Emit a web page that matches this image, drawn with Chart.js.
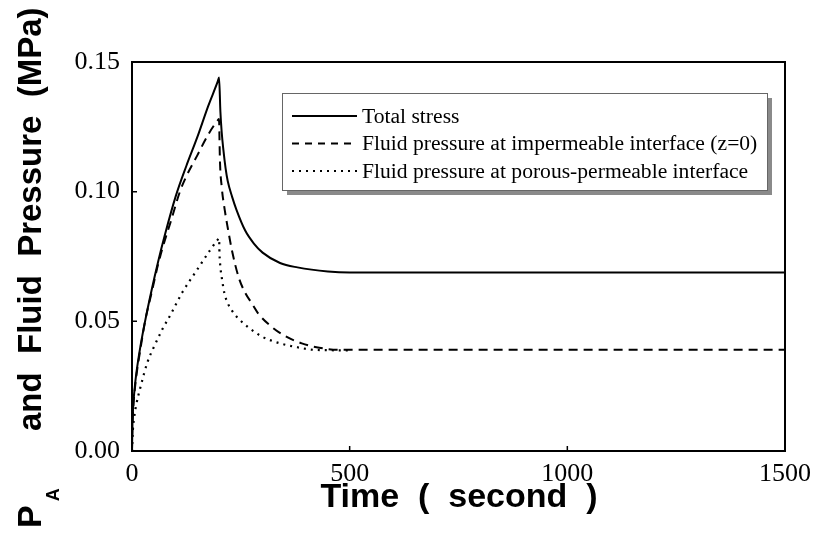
<!DOCTYPE html>
<html>
<head>
<meta charset="utf-8">
<script src="https://cdn.jsdelivr.net/npm/chart.js@4.4.0/dist/chart.umd.min.js"></script>
<style>
  html, body { margin: 0; padding: 0; background: #fff; }
  #wrap { width: 816px; height: 543px; }
</style>
</head>
<body>
<div id="wrap"><canvas id="chart" width="816" height="543"></canvas></div>
<script>
// values (time in seconds, pressure in MPa)
const totalTime = [0, 1, 3, 6, 10, 20, 30, 45, 60, 75, 100, 125, 150, 175, 197, 200, 203, 206, 210, 215, 220, 230, 240, 260, 280, 300, 340, 380, 450, 500, 1500];
const totalStress = [0, 0.010, 0.018, 0.024, 0.030, 0.041, 0.050, 0.062, 0.073, 0.083, 0.098, 0.110, 0.121, 0.133, 0.1425, 0.144, 0.131, 0.123, 0.116, 0.109, 0.104, 0.098, 0.093, 0.085, 0.080, 0.0765, 0.0725, 0.0708, 0.0692, 0.0688, 0.0688];

const impTime = [0, 1, 3, 6, 10, 20, 30, 45, 60, 75, 90, 110, 125, 150, 175, 197, 200, 201, 202, 206, 213, 220, 230, 245, 260, 275, 290, 320, 350, 390, 430, 480, 1500];
const impPressure = [0, 0.009, 0.017, 0.023, 0.029, 0.040, 0.050, 0.061, 0.072, 0.081, 0.089, 0.100, 0.106, 0.114, 0.122, 0.1275, 0.128, 0.120, 0.112, 0.102, 0.093, 0.086, 0.077, 0.067, 0.061, 0.057, 0.053, 0.048, 0.0445, 0.0415, 0.0398, 0.039, 0.039];

const porTime = [0, 2, 5, 10, 20, 35, 50, 70, 90, 115, 150, 180, 197, 200, 201, 203, 207, 212, 220, 230, 245, 265, 300, 340, 380, 420, 500];
const porPressure = [0, 0.008, 0.013, 0.018, 0.025, 0.034, 0.040, 0.047, 0.053, 0.061, 0.070, 0.0776, 0.0815, 0.082, 0.076, 0.071, 0.066, 0.061, 0.057, 0.054, 0.051, 0.048, 0.044, 0.0415, 0.040, 0.039, 0.0388];

const seriesLabels = ['Total stress', 'Fluid pressure at impermeable interface (z=0)', 'Fluid pressure at porous-permeable interface'];
const xTicks = [0, 500, 1000, 1500];
const yTicks = [0, 0.05, 0.10, 0.15];

function pts(xs, ys) {
    return xs.map((x, i) => ({ x: x, y: ys[i] }));
}

const serif = '"Liberation Serif", "Times New Roman", serif';
const sans = '"Liberation Sans", Arial, sans-serif';

// frame, inner ticks, legend box and axis titles
const decor = {
    id: 'decor',
    afterDraw(chart) {
        const ctx = chart.ctx;
        const a = chart.chartArea;
        const xs = chart.scales.x, ys = chart.scales.y;
        ctx.save();

        // frame
        ctx.strokeStyle = '#000';
        ctx.lineWidth = 2;
        ctx.strokeRect(a.left, a.top, a.right - a.left, a.bottom - a.top);

        // inside tick marks
        ctx.lineWidth = 1.5;
        ctx.beginPath();
        xTicks.forEach(v => {
            const px = xs.getPixelForValue(v);
            ctx.moveTo(px, a.bottom);
            ctx.lineTo(px, a.bottom - 5);
        });
        yTicks.forEach(v => {
            const py = ys.getPixelForValue(v);
            ctx.moveTo(a.left, py);
            ctx.lineTo(a.left + 5, py);
        });
        ctx.stroke();

        // legend box with shadow
        const bx = 282, by = 93, bw = 485, bh = 97;
        ctx.fillStyle = '#8a8a8a';
        ctx.fillRect(bx + 5, by + 5, bw, bh);
        ctx.fillStyle = '#fff';
        ctx.fillRect(bx, by, bw, bh);
        ctx.strokeStyle = '#666';
        ctx.lineWidth = 1;
        ctx.strokeRect(bx + 0.5, by + 0.5, bw, bh);

        ctx.font = '21.6px ' + serif;
        ctx.textBaseline = 'middle';
        ctx.textAlign = 'left';
        chart.data.datasets.forEach((ds, i) => {
            const ry = 116 + i * 27.5;
            ctx.strokeStyle = '#000';
            ctx.lineWidth = ds.borderWidth;
            ctx.setLineDash(ds.legendDash || []);
            ctx.beginPath();
            ctx.moveTo(292, ry);
            ctx.lineTo(357, ry);
            ctx.stroke();
            ctx.setLineDash([]);
            ctx.fillStyle = '#000';
            ctx.fillText(ds.label, 362, ry + 1);
        });

        // x axis title
        ctx.fillStyle = '#000';
        ctx.font = 'bold 34px ' + sans;
        ctx.textAlign = 'center';
        ctx.textBaseline = 'alphabetic';
        ctx.fillText('Time  (  second  )', 459, 507);

        // y axis title with subscript
        ctx.save();
        ctx.translate(41, 528);
        ctx.rotate(-Math.PI / 2);
        ctx.textAlign = 'left';
        ctx.font = 'bold 34px ' + sans;
        ctx.fillText('P', 0, 0);
        const pw = ctx.measureText('P').width;
        ctx.font = 'bold 18px ' + sans;
        ctx.fillText('A', pw + 4, 18);
        ctx.font = 'bold 33px ' + sans;
        ctx.fillText('and  Fluid  Pressure  (MPa)', 97, 0);
        ctx.restore();

        ctx.restore();
    }
};

new Chart(document.getElementById('chart'), {
    type: 'line',
    data: {
        datasets: [
            {
                label: seriesLabels[0],
                data: pts(totalTime, totalStress),
                borderColor: '#000',
                borderWidth: 2,
                legendDash: []
            },
            {
                label: seriesLabels[1],
                data: pts(impTime, impPressure),
                borderColor: '#000',
                borderWidth: 2,
                borderDash: [9, 6],
                legendDash: [7, 6]
            },
            {
                label: seriesLabels[2],
                data: pts(porTime, porPressure),
                borderColor: '#000',
                borderWidth: 2.2,
                borderDash: [2, 5],
                legendDash: [2, 5]
            }
        ]
    },
    options: {
        responsive: false,
        animation: false,
        elements: {
            point: { radius: 0 },
            line: { cubicInterpolationMode: 'monotone', fill: false }
        },
        layout: { padding: { top: 62, right: 31, left: 0, bottom: 0 } },
        plugins: {
            legend: { display: false },
            tooltip: { enabled: false }
        },
        scales: {
            x: {
                type: 'linear',
                min: 0,
                max: 1500,
                grid: { display: false },
                border: { display: false },
                afterFit: s => { s.height = 92; },
                afterBuildTicks: s => { s.ticks = xTicks.map(v => ({ value: v })); },
                ticks: {
                    color: '#000',
                    padding: 0,
                    maxRotation: 0,
                    font: { family: serif, size: 26 },
                    callback: v => String(v)
                }
            },
            y: {
                type: 'linear',
                min: 0,
                max: 0.15,
                grid: { display: false },
                border: { display: false },
                afterFit: s => { s.width = 132; },
                afterBuildTicks: s => { s.ticks = yTicks.map(v => ({ value: v })); },
                ticks: {
                    color: '#000',
                    padding: 4,
                    font: { family: serif, size: 26 },
                    callback: v => v.toFixed(2)
                }
            }
        }
    },
    plugins: [decor]
});
</script>
</body>
</html>
